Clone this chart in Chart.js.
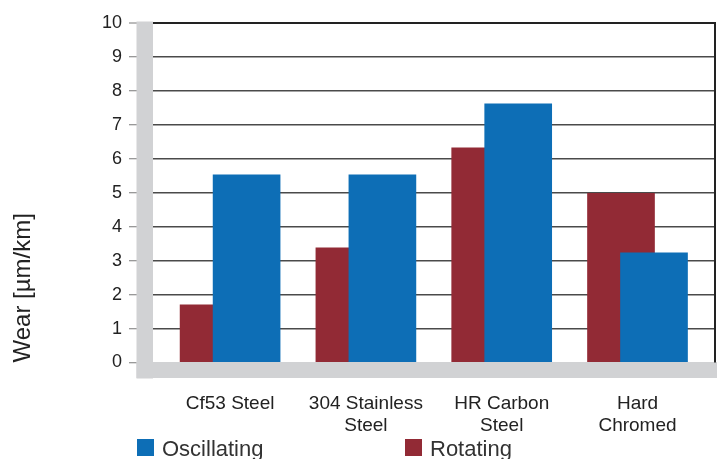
<!DOCTYPE html>
<html>
<head>
<meta charset="utf-8">
<script src="https://cdn.jsdelivr.net/npm/chart.js@4/dist/chart.umd.min.js"></script>
<style>
  html, body { margin: 0; padding: 0; background: #ffffff; overflow: hidden; }
  #wrap { width: 717px; height: 459px; }
</style>
</head>
<body>
<div id="wrap"><canvas id="chart" width="717" height="459"></canvas></div>
<script>
// Wear rate per material, two test modes
const categories = ['Cf53 Steel', ['304 Stainless', 'Steel'], ['HR Carbon', 'Steel'], ['Hard', 'Chromed']];
const oscillating = [5.53, 5.53, 7.62, 3.23];
const rotating = [1.70, 3.38, 6.32, 4.98];
const yTickValues = [0, 1, 2, 3, 4, 5, 6, 7, 8, 9, 10];

const BLUE = '#0d6eb6';
const RED = '#922a35';
const WALL = '#d1d2d4';
const FONT = "'Liberation Sans', Arial, Helvetica, sans-serif";

// half-overlapping pair inside each category slot
const PAIR_SHIFT = 0.1215;

// grey back wall on the left and floor strip under the bars
const wallPlugin = {
  id: 'wallAndFloor',
  beforeDatasetsDraw(chart) {
    const { ctx, chartArea: a } = chart;
    ctx.save();
    ctx.fillStyle = WALL;
    ctx.fillRect(a.left - 16.5, a.top - 1.5, 16.5, a.bottom - a.top + 17.5);
    ctx.fillRect(a.left - 16.5, a.bottom - 0.5, chart.width - a.left + 16.5, 16);
    ctx.strokeStyle = '#222222';
    ctx.lineWidth = 2;
    ctx.beginPath();
    ctx.moveTo(a.right - 1, a.top - 1);
    ctx.lineTo(a.right - 1, a.bottom);
    ctx.stroke();
    ctx.restore();
  }
};

// legend row under the axis labels
const legendPlugin = {
  id: 'bottomLegend',
  afterDraw(chart) {
    const { ctx } = chart;
    const xs = [137, 405];
    ctx.save();
    ctx.font = '22px ' + FONT;
    ctx.textBaseline = 'alphabetic';
    ctx.textAlign = 'left';
    chart.data.datasets.forEach((ds, i) => {
      ctx.fillStyle = ds.backgroundColor;
      ctx.fillRect(xs[i], 439, 17, 17);
      ctx.fillStyle = '#333333';
      ctx.fillText(ds.label, xs[i] + 25, 456);
    });
    ctx.restore();
  }
};

new Chart(document.getElementById('chart'), {
  type: 'bar',
  data: {
    datasets: [
      {
        label: 'Oscillating',
        data: oscillating.map((v, i) => ({ x: i + PAIR_SHIFT, y: v })),
        backgroundColor: BLUE,
        borderWidth: 0,
        grouped: false,
        barThickness: 67,
        order: 0
      },
      {
        label: 'Rotating',
        data: rotating.map((v, i) => ({ x: i - PAIR_SHIFT, y: v })),
        backgroundColor: RED,
        borderWidth: 0,
        grouped: false,
        barThickness: 67,
        order: 1
      }
    ]
  },
  options: {
    responsive: false,
    animation: false,
    devicePixelRatio: 1,
    layout: { padding: { top: 23, right: 1, bottom: 0, left: 0 } },
    plugins: {
      legend: { display: false },
      tooltip: { enabled: false }
    },
    scales: {
      x: {
        type: 'linear',
        min: -0.5677,
        max: 3.578,
        offset: false,
        grid: { display: false },
        border: { display: false },
        afterBuildTicks(scale) {
          scale.ticks = categories.map((_, i) => ({ value: i }));
        },
        afterFit(scale) { scale.height = 96.5; },
        ticks: {
          autoSkip: false,
          maxRotation: 0,
          padding: 22,
          color: '#222222',
          font: { family: FONT, size: 19, lineHeight: 1.15 },
          callback: (value) => categories[value]
        }
      },
      y: {
        min: 0,
        max: 10,
        afterBuildTicks(scale) {
          scale.ticks = yTickValues.map(v => ({ value: v }));
        },
        afterFit(scale) { scale.width = 153; },
        border: { display: false },
        grid: {
          color: (c) => (c.tick && c.tick.value === 10 ? '#222222' : '#4a4a4a'),
          lineWidth: (c) => (c.tick && c.tick.value === 10 ? 2 : 1.5),
          tickLength: 24,
          tickColor: '#777777',
          tickWidth: 1
        },
        ticks: {
          padding: 7,
          color: '#222222',
          font: { family: FONT, size: 18 }
        },
        title: {
          display: true,
          text: 'Wear [µm/km]',
          align: 'start',
          color: '#222222',
          padding: { top: 9, bottom: 0 },
          font: { family: FONT, size: 24 }
        }
      }
    }
  },
  plugins: [wallPlugin, legendPlugin]
});
</script>
</body>
</html>
